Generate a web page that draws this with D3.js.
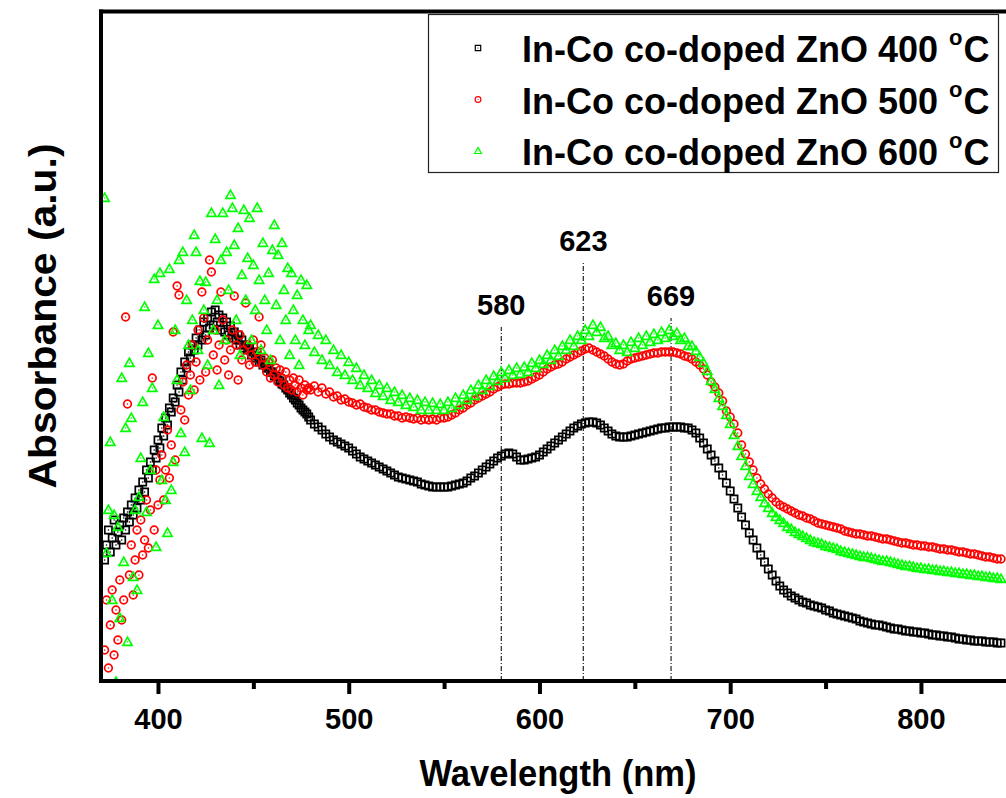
<!DOCTYPE html>
<html>
<head>
<meta charset="utf-8">
<title>In-Co co-doped ZnO absorbance</title>
<script src="https://cdn.jsdelivr.net/npm/d3@7/dist/d3.min.js"></script>
<style>
  body { margin: 0; background: #fff; }
  text { font-family: "Liberation Sans", Arial, sans-serif; font-weight: bold; fill: #000; }
</style>
</head>
<body>
<div id="chart"></div>
<script>
// wavelength grid: 1 nm in the noisy UV part, 2 nm after that
const wavelength = d3.range(372, 480, 1).concat(d3.range(480, 843, 2));

// absorbance (a.u. x 1000)
const abs400 = [
  123,138,153,131,145,163,138,151,
  158,143,165,153,171,161,178,168,185,175,
  193,183,201,191,213,205,221,213,233,225,
  243,235,255,247,265,258,275,271,285,281,
  298,291,311,303,321,315,331,325,338,333,
  345,338,353,343,361,348,365,355,371,358,
  373,361,368,353,365,351,361,348,357,345,
  351,343,348,338,343,335,338,333,335,328,
  331,325,327,321,323,318,319,315,315,311,
  311,307,307,303,302,299,298,295,293,290,
  288,285,283,280,278,275,273,271,269,266,
  // 480 nm on, 2 nm step
  263,259,256,253,249,246,243,241,239,237,
  235,232,229,226,224,222,220,218,216,214,
  212,210,208,206,205,204,203,202,201,199,
  198,197,196,196,196,196,196,197,198,199,
  200,202,205,207,210,213,216,219,222,225,
  227,229,230,229,226,223,223,224,225,226,
  228,231,234,237,240,243,246,249,252,255,
  257,259,260,261,261,260,258,255,252,249,
  247,246,246,246,247,248,249,250,251,252,
  253,254,255,255,256,256,256,256,255,255,
  253,250,245,240,234,228,222,215,208,200,
  192,184,175,166,158,150,143,135,128,121,
  114,108,102,97,93,90,87,85,83,81,
  80,78,77,76,75,73,72,70,69,68,
  67,66,65,64,62,61,60,59,58,58,
  57,56,55,54,54,53,52,52,51,51,
  50,50,49,48,48,47,47,46,46,45,
  44,44,43,43,42,42,42,41,41,41,
  40,40
];

const abs500 = [
  33,83,15,58,93,28,73,43,
  103,63,83,366,279,108,138,88,123,153,
  108,163,128,143,183,135,173,305,153,213,
  178,203,228,183,213,253,205,238,351,223,
  397,388,273,301,263,318,288,308,338,293,
  321,353,303,391,365,311,343,423,411,328,
  353,313,338,391,363,323,343,308,333,353,
  387,338,303,348,323,333,380,338,318,328,
  343,321,331,366,338,318,325,311,321,305,
  323,308,315,301,313,305,298,311,295,303,
  293,305,298,291,303,295,288,298,293,295,
  293,297,291,295,289,291,286,287,283,284,
  281,280,278,279,276,275,273,273,271,270,
  269,269,267,267,265,266,265,264,265,263,
  264,263,264,263,265,265,266,268,270,273,
  275,278,280,283,285,287,289,291,294,296,
  298,299,299,300,300,300,301,302,304,306,
  308,311,314,316,318,319,321,324,326,328,
  330,332,334,335,333,331,329,327,324,321,
  319,318,319,322,324,325,326,327,328,329,
  330,330,331,331,331,331,330,329,327,326,
  324,321,318,314,308,301,296,290,282,272,
  266,259,250,238,229,221,213,205,199,194,
  189,185,181,178,176,174,172,170,168,167,
  165,164,162,160,159,158,157,156,155,154,
  152,151,150,149,149,148,147,147,146,145,
  144,144,143,142,141,140,140,139,138,138,
  137,137,136,136,135,134,134,133,133,132,
  131,131,130,129,129,128,127,126,126,125,
  124,124
];

const abs600 = [
  485,130,173,241,83,168,1,156,
  65,305,121,255,41,320,265,106,173,93,
  186,225,281,376,171,330,213,295,404,136,
  358,410,203,266,183,150,414,193,221,353,
  303,423,250,431,231,383,338,293,363,448,
  431,333,402,245,373,401,318,240,470,353,
  444,383,298,423,470,343,431,393,488,475,
  438,363,455,328,408,473,383,425,465,343,
  418,373,475,403,333,440,383,353,410,323,
  433,458,378,428,343,440,393,363,415,328,
  410,373,343,388,318,403,363,338,398,353,
  358,331,348,323,343,318,333,311,328,308,
  321,303,315,298,308,295,303,290,298,287,
  295,283,291,281,288,278,285,276,283,273,
  281,273,280,273,279,273,281,275,285,278,
  288,283,293,287,298,293,303,297,307,302,
  311,305,313,308,315,309,316,311,320,315,
  323,319,328,323,333,327,337,333,343,337,
  347,343,353,347,358,351,356,345,347,338,
  340,333,338,331,341,335,345,338,347,341,
  349,343,351,345,353,347,350,343,345,337,
  337,332,326,320,312,302,294,285,277,268,
  259,248,237,227,217,207,199,192,186,180,
  175,170,166,163,160,156,154,151,149,147,
  145,143,141,140,139,137,136,135,134,132,
  131,130,129,128,127,126,126,125,124,123,
  122,122,121,120,119,118,117,117,116,115,
  115,114,114,113,113,112,112,111,111,110,
  110,109,109,108,108,107,107,106,106,105,
  105,104
];

const seriesLabels = ["In-Co co-doped ZnO 400", "In-Co co-doped ZnO 500", "In-Co co-doped ZnO 600"];
const seriesColors = ["#000000", "#ff0000", "#00ff00"];
const seriesShapes = ["square", "circle", "triangle"];

const peakNm = [580, 623, 669];
const peakTop = [356, 420, 365]; // where each marker line stops, a.u. x 1000

const xTicks = [400, 500, 600, 700, 800];
const xMinorTicks = [450, 550, 650, 750];

const width = 1006, height = 798;
const plot = {left: 101, top: 12, bottom: 681};

const x = d3.scaleLinear().domain([369.6, 844.6]).range([100, 1006]);
const y = d3.scaleLinear().domain([0, 671]).range([683, 12]);

const svg = d3.select("#chart").append("svg")
  .attr("width", width)
  .attr("height", height);

svg.append("defs").append("clipPath").attr("id", "plotclip")
  .append("rect")
  .attr("x", plot.left).attr("y", plot.top)
  .attr("width", width - plot.left).attr("height", plot.bottom - plot.top + 1);

// marker shapes, centred on 0,0
const shapePath = {
  square: "M-3.6,-3.6H3.6V3.6H-3.6Z",
  circle: d3.symbol(d3.symbolCircle, 46)(),
  triangle: "M0,-4.8L4.6,3.3H-4.6Z"
};

const drawMarker = function (g, shape, color, scale, sw) {
  const k = scale || 1;
  g.append("path")
    .attr("d", shapePath[shape])
    .attr("transform", k !== 1 ? `scale(${k})` : null)
    .attr("fill", "none")
    .attr("stroke", color)
    .attr("stroke-width", (sw || 1.7) / k);
  g.append("circle")
    .attr("r", 0.8 * k)
    .attr("fill", color);
};

// peak marker lines
const peaks = svg.append("g");
peakNm.forEach(function (nm, i) {
  peaks.append("line")
    .attr("x1", x(nm)).attr("x2", x(nm))
    .attr("y1", plot.bottom).attr("y2", y(peakTop[i]))
    .attr("stroke", "#333")
    .attr("stroke-width", 1.3)
    .attr("stroke-dasharray", "5,2,1,2");
  peaks.append("text")
    .attr("x", x(nm))
    .attr("y", y(peakTop[i]) - 12)
    .attr("text-anchor", "middle")
    .attr("font-size", "29px")
    .text(nm);
});

// scatter series
const pts = svg.append("g").attr("clip-path", "url(#plotclip)");
[abs400, abs500, abs600].forEach(function (values, s) {
  const g = pts.append("g");
  values.forEach(function (v, i) {
    const m = g.append("g")
      .attr("transform", `translate(${x(wavelength[i]).toFixed(1)},${y(v).toFixed(1)})`);
    drawMarker(m, seriesShapes[s], seriesColors[s]);
  });
});

// frame
const frame = svg.append("g").attr("stroke", "#000").attr("stroke-width", 4);
frame.append("line").attr("x1", 99).attr("x2", width).attr("y1", 11.5).attr("y2", 11.5);
frame.append("line").attr("x1", 101).attr("x2", 101).attr("y1", 9.5).attr("y2", 683);
frame.append("line").attr("x1", 99).attr("x2", width).attr("y1", plot.bottom).attr("y2", plot.bottom);

// x axis
const xAxis = svg.append("g")
  .attr("transform", `translate(0,${plot.bottom})`)
  .call(d3.axisBottom(x).tickValues(xTicks).tickSize(13).tickPadding(14));
xAxis.select(".domain").remove();
xAxis.selectAll(".tick line").attr("stroke-width", 4);
xAxis.selectAll(".tick text")
  .attr("font-size", "29px")
  .attr("font-family", null)
  .attr("fill", "#000");

const xMinor = svg.append("g")
  .attr("transform", `translate(0,${plot.bottom})`)
  .call(d3.axisBottom(x).tickValues(xMinorTicks).tickSize(8).tickFormat(""));
xMinor.select(".domain").remove();
xMinor.selectAll(".tick line").attr("stroke-width", 4);

// axis titles
svg.append("text")
  .attr("x", 558).attr("y", 786)
  .attr("text-anchor", "middle")
  .attr("font-size", "37px")
  .attr("textLength", 277)
  .attr("lengthAdjust", "spacingAndGlyphs")
  .text("Wavelength (nm)");

svg.append("text")
  .attr("transform", "translate(56,316) rotate(-90)")
  .attr("text-anchor", "middle")
  .attr("font-size", "38px")
  .attr("textLength", 345)
  .attr("lengthAdjust", "spacingAndGlyphs")
  .text("Absorbance (a.u.)");

// legend
const legend = svg.append("g");
legend.append("rect")
  .attr("x", 428.5).attr("y", 14.5)
  .attr("width", 570).attr("height", 158)
  .attr("fill", "#fff")
  .attr("stroke", "#222")
  .attr("stroke-width", 1.2);

seriesLabels.forEach(function (label, i) {
  const cy = 48 + i * 51.5;
  const m = legend.append("g").attr("transform", `translate(478,${cy})`);
  drawMarker(m, seriesShapes[i], seriesColors[i], 0.75, 1.2);
  const t = legend.append("text")
    .attr("x", 522).attr("y", cy + 14)
    .attr("font-size", "36px")
    .text(label);
  const endX = 522 + t.node().getComputedTextLength();
  // degree sign drawn as a raised small "o", then "C"
  const deg = legend.append("text")
    .attr("x", endX + 11).attr("y", cy - 3)
    .attr("font-size", "22px")
    .text("o");
  const degEnd = endX + 11 + deg.node().getComputedTextLength();
  legend.append("text")
    .attr("x", degEnd + 1).attr("y", cy + 14)
    .attr("font-size", "36px")
    .text("C");
});
</script>
</body>
</html>
